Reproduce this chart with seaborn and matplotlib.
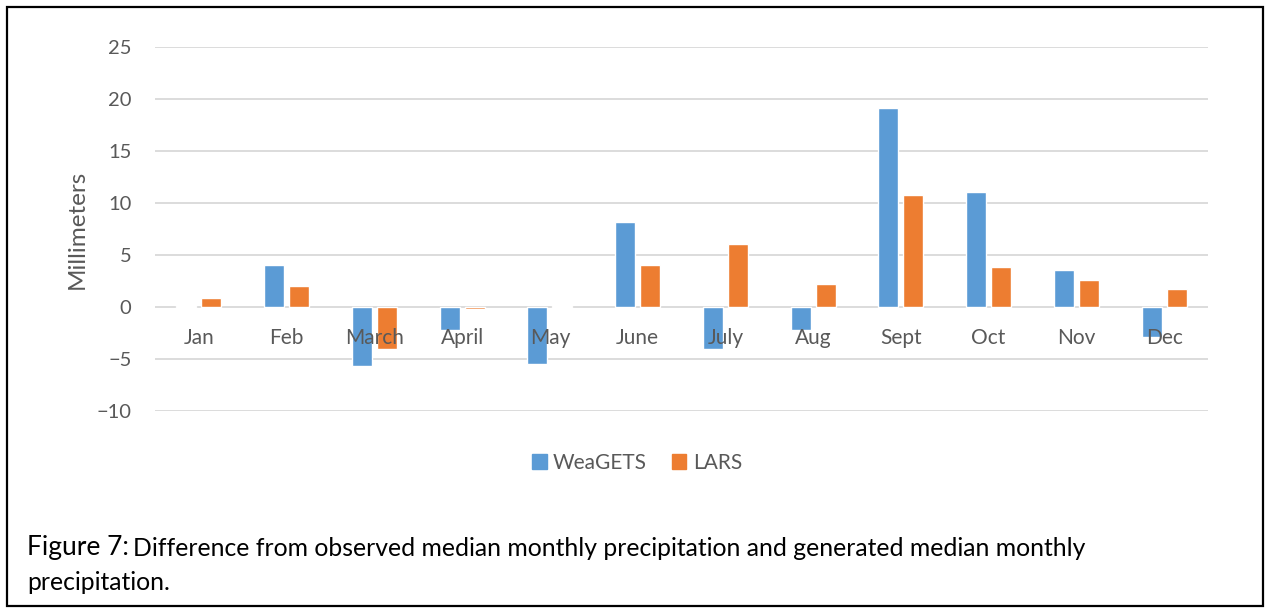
import numpy as np
import pandas as pd
import matplotlib
matplotlib.use("Agg")
import matplotlib.pyplot as plt
from matplotlib.patches import Rectangle
import seaborn as sns

# data
months = ["Jan", "Feb", "March", "April", "May", "June",
          "July", "Aug", "Sept", "Oct", "Nov", "Dec"]
weagets = [0.05, 4.0, -5.7, -2.2, -5.5, 8.2, -4.0, -2.2, 19.1, 11.1, 3.6, -2.9]
lars = [0.9, 2.05, -4.05, -0.2, 0.1, 4.0, 6.1, 2.2, 10.75, 3.8, 2.55, 1.7]
series = ["WeaGETS", "LARS"]
colors = ["#5B9BD5", "#ED7D31"]
yticks = [-10, -5, 0, 5, 10, 15, 20, 25]

df = pd.DataFrame({
    "month": months * 2,
    "value": weagets + lars,
    "model": [series[0]] * len(months) + [series[1]] * len(months),
})

sns.set_style("white")
plt.rcParams["font.family"] = ["Lato", "DejaVu Sans"]

fig = plt.figure(figsize=(12.65, 6.09), dpi=100)
ax = fig.add_axes([155 / 1265, 1 - 411 / 609, (1208 - 155) / 1265, (411 - 47) / 609])

sns.barplot(data=df, x="month", y="value", hue="model", order=months,
            hue_order=series, palette=colors, width=0.57, gap=0.2,
            saturation=1, ax=ax, legend=False)

ax.set_ylim(-10, 25)
ax.set_xlim(-0.5, len(months) - 0.5)
ax.set_yticks(yticks)
ax.yaxis.grid(True, color="#D9D9D9", lw=1.3)
ax.set_axisbelow(True)
for s in ax.spines.values():
    s.set_visible(False)
ax.tick_params(axis="y", length=0, pad=17, labelsize=14.5, labelcolor="#595959")
ax.set_xticks([])
ax.set_xlabel("")
ax.set_ylabel("Millimeters", fontsize=17.5, color="#595959", labelpad=6)

# category labels sit just below the zero line, Excel style
for i, m in enumerate(months):
    ax.annotate(m, (i, 0), xytext=(0, -22), textcoords="offset points",
                ha="center", va="center", fontsize=15, color="#595959")

# legend
handles = [Rectangle((0, 0), 1, 1, color=c) for c in colors]
fig.legend(handles, series, loc="center", bbox_to_anchor=(637 / 1265, 1 - 463 / 609),
           ncol=2, frameon=False, fontsize=15, handlelength=0.7, handleheight=0.7,
           handletextpad=0.3, columnspacing=1.2, labelcolor="#595959")

# caption
fig.canvas.draw()
r = fig.canvas.get_renderer()
t1 = fig.text(27 / 1265, 1 - 548 / 609, "Figure 7:", fontsize=19, va="center",
              color="black")
bb = t1.get_window_extent(r)
fig.text(bb.x1 / fig.bbox.width + 0.003, 1 - 549 / 609,
         "Difference from observed median monthly precipitation and generated median monthly",
         fontsize=17.8, va="center", color="black")
fig.text(27 / 1265, 1 - 582 / 609, "precipitation.", fontsize=17.8, va="center",
         color="black")

# outer frame
fig.patches.append(Rectangle((7 / 1265, 3 / 609), 1256 / 1265, 599 / 609,
                             transform=fig.transFigure, fill=False,
                             edgecolor="black", lw=1.6))

fig.savefig("out.png", dpi=100)
